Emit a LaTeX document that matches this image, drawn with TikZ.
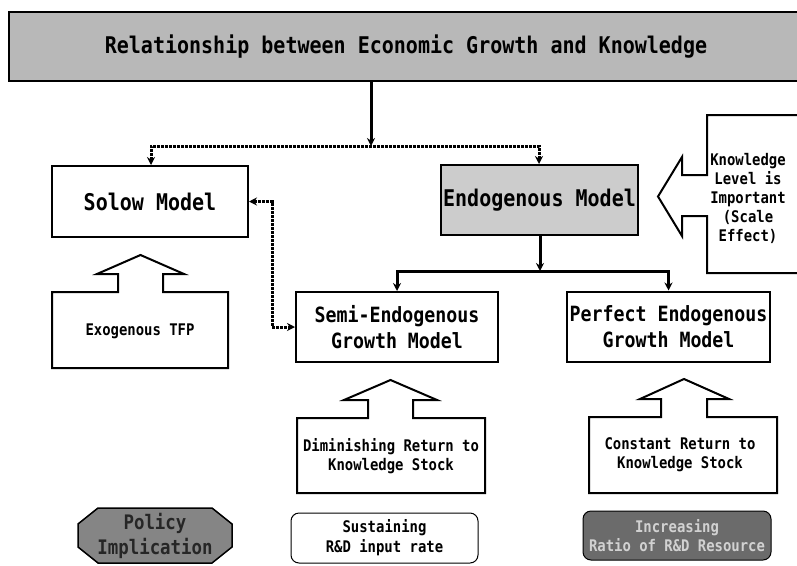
\documentclass[tikz,border=0pt]{standalone}
\usepackage{fontspec}
\setmainfont{DejaVu Sans Mono}[FakeStretch=0.87]
\usetikzlibrary{arrows.meta}
\definecolor{titlegray}{gray}{0.72}
\definecolor{endogray}{gray}{0.80}
\definecolor{policygray}{gray}{0.52}
\definecolor{incgray}{gray}{0.42}
\definecolor{inctext}{gray}{0.82}
\begin{document}
\begin{tikzpicture}[x=1pt,y=-1pt,
  box/.style={draw=black, line width=2pt, inner sep=0pt, align=center},
  bigfont/.style={font=\fontsize{23pt}{26pt}\selectfont\bfseries},
  midfont/.style={font=\fontsize{21pt}{26pt}\selectfont\bfseries},
  smallfont/.style={font=\fontsize{16pt}{18pt}\selectfont\bfseries},
  conn/.style={line width=3pt, draw=black},
  dotconn/.style={line width=3pt, draw=black, dash pattern=on 2.8pt off 1.2pt},
  tip/.style={-{Stealth[length=8pt,width=8pt]}},
  tips/.style={{Stealth[length=8pt,width=8pt]}-{Stealth[length=8pt,width=8pt]}},
  callout/.style={draw=black, line width=2pt, line join=miter, fill=white},
  ctext/.style={smallfont, align=center, inner sep=0pt}
]
\useasboundingbox (0,0) rectangle (797,565);

% title
\node[box, fill=titlegray, minimum width=794pt, minimum height=69pt, bigfont] (title) at (406,46.5) {Relationship between Economic Growth and Knowledge};

% main boxes
\node[box, minimum width=196pt, minimum height=71pt, bigfont] (solow) at (150,201.5) {Solow Model};
\node[box, fill=endogray, minimum width=197pt, minimum height=70pt, bigfont] (endo) at (539.5,200) {Endogenous Model};
\node[box, minimum width=202pt, minimum height=70pt, midfont] (semi) at (397,327) {Semi-Endogenous\\Growth Model};
\node[box, minimum width=203pt, minimum height=70pt, midfont] (perf) at (668.5,326.5) {Perfect Endogenous\\Growth Model};

% connectors
\coordinate (sp1) at (371,146);
\coordinate (dl) at (151,146);
\coordinate (dr) at (539,146);
\draw[conn, tip] (title.south -| sp1) -- (sp1);
\draw[dotconn, tips] (solow.north -| dl) -- (dl) -- (dr) -- (endo.north -| dr);

\coordinate (sp2) at (540,271);
\draw[conn, tip] (endo.south -| sp2) -- (sp2);
\draw[conn, tips] (semi.north) -- (semi.north |- sp2) -- (perf.north |- sp2) -- (perf.north);

\coordinate (ss) at (272,0);
\draw[dotconn, tips] (solow.east) -- (solow.east -| ss) -- (semi.west -| ss) -- (semi.west);

% callout: exogenous
\draw[callout] (52,292) -- (118,292) -- (118,274) -- (97,274) -- (140.5,255) -- (184,274) -- (163,274) -- (163,292) -- (228,292) -- (228,368) -- (52,368) -- cycle;
\node[ctext] (exo) at (140,331) {Exogenous TFP};

% callout: diminishing
\draw[callout] (297,418) -- (368,418) -- (368,400) -- (344,400) -- (390.5,380) -- (437,400) -- (413,400) -- (413,418) -- (485,418) -- (485,493) -- (297,493) -- cycle;
\node[ctext, font=\fontsize{16pt}{19pt}\selectfont\bfseries] (dim) at (391,456) {Diminishing Return to\\Knowledge Stock};

% callout: constant
\draw[callout] (589,417) -- (661,417) -- (661,399) -- (640,399) -- (684,379) -- (729,399) -- (707,399) -- (707,417) -- (777,417) -- (777,493) -- (589,493) -- cycle;
\node[ctext, font=\fontsize{16pt}{19pt}\selectfont\bfseries] (const) at (680,455) {Constant Return to\\Knowledge Stock};

% callout: knowledge (pointing left)
\draw[callout] (805,115) -- (707,115) -- (707,175) -- (682,175) -- (682,157) -- (658,196.5) -- (682,236) -- (682,216) -- (707,216) -- (707,273) -- (805,273);
\node[ctext, font=\fontsize{16pt}{19pt}\selectfont\bfseries] (know) at (748,198) {Knowledge\\Level is\\Important\\(Scale\\Effect)};

% bottom row
\draw[line width=1.5pt, fill=policygray] (98,508) -- (212,508) -- (232,524) -- (232,547) -- (212,563) -- (98,563) -- (78,547) -- (78,524) -- cycle;
\node[align=center, inner sep=0pt, font=\fontsize{20pt}{25pt}\selectfont\bfseries, text=black!85] (policy) at (155,535.5) {Policy\\Implication};

\node[draw=black, line width=1pt, rounded corners=8pt, minimum width=187pt, minimum height=50pt, inner sep=0pt, align=center, font=\fontsize{16pt}{20pt}\selectfont\bfseries] (sust) at (384.5,538) {Sustaining\\R\&D input rate};

\node[draw=black, line width=1pt, fill=incgray, text=inctext, rounded corners=8pt, minimum width=188pt, minimum height=49pt, inner sep=0pt, align=center, font=\fontsize{16pt}{19pt}\selectfont\bfseries] (inc) at (677,535.5) {Increasing\\Ratio of R\&D Resource};
\end{tikzpicture}
\end{document}
